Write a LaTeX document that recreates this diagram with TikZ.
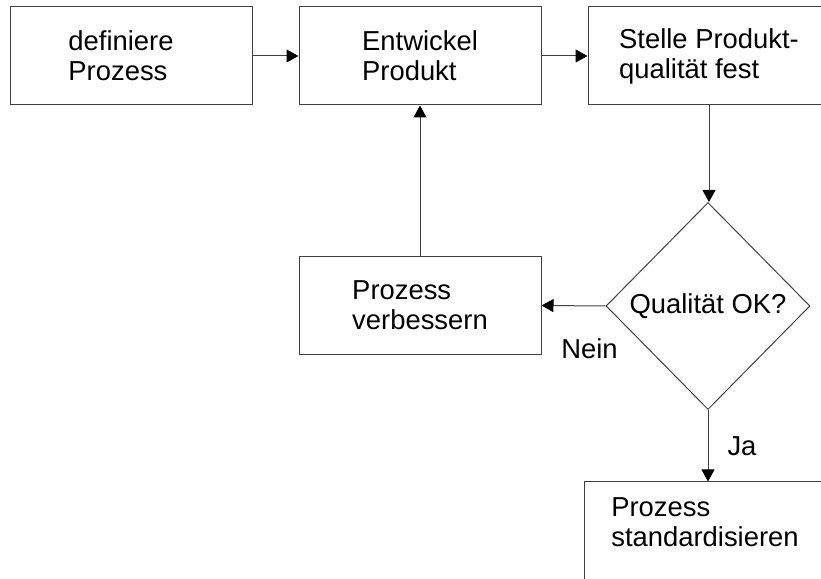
\documentclass[tikz,border=0pt]{standalone}
\usepackage{fontspec}
\setmainfont{Liberation Sans}
\usepackage{tikz}
\usetikzlibrary{arrows.meta,shapes.geometric}
\definecolor{linegrey}{RGB}{64,64,64}
\tikzset{
  blk/.style ={draw=linegrey, line width=0.5pt, align=left, font=\fontsize{13.7}{15}\selectfont,
               inner sep=0pt, minimum width=121pt, minimum height=49pt},
  dec/.style ={draw=linegrey, line width=0.5pt, diamond, align=center, inner sep=0pt,
               font=\fontsize{13.7}{15}\selectfont, minimum width=102pt, minimum height=103.5pt},
  ar/.style  ={-{Triangle[length=6pt,width=6.5pt,color=black]}, draw=linegrey, line width=0.5pt},
  lbl/.style ={font=\fontsize{13.7}{15}\selectfont, inner sep=0pt},
}
\begin{document}
\begin{tikzpicture}[x=0.5pt,y=0.5pt]
\useasboundingbox (0,0) rectangle (821,579);

% top row
\node[blk] (def)  at (131,523) {definiere\hspace*{10pt}\\Prozess};
\node[blk] (entw) at (420,523) {Entwickel\\Produkt};
\node[blk] (fest) at (709,523) {Stelle Produkt-\\qualit\"at fest};

% decision and branches
\node[dec] (ok)   at (708,273) {Qualit\"at OK?};
\node[blk] (verb) at (420,273.5) {Prozess\\verbessern};
\node[blk] (std)  at (705,48) {Prozess\\standardisieren\rule[-9pt]{0pt}{0pt}};

\draw[ar] (def) -- (entw);
\draw[ar] (entw) -- (fest);
\draw[ar] (fest) -- (fest |- ok.north);
\draw[ar] (ok.west) -- (verb.east)
   node[lbl,pos=0.25,below=16pt] {Nein};
\draw[ar] (verb) -- (entw);
\draw[ar] (ok.south) -- (ok.south |- std.north)
   node[lbl,midway,right=9.5pt] {Ja};
\end{tikzpicture}
\end{document}
